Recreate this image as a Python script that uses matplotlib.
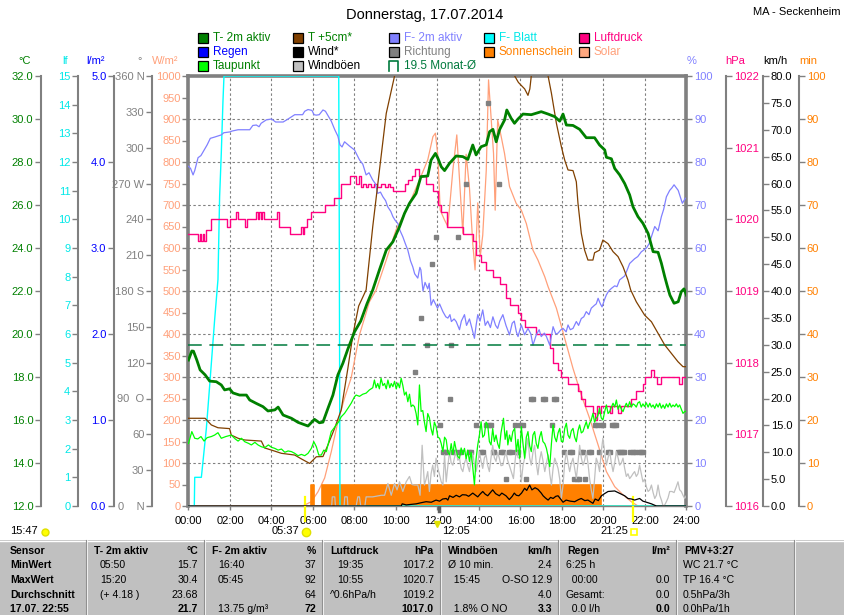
import matplotlib
matplotlib.use('Agg')
import matplotlib.pyplot as plt
from matplotlib.patches import Rectangle

plt.rcParams['font.family'] = ['Liberation Sans', 'DejaVu Sans']
plt.rcParams['font.size'] = 8
plt.rcParams['axes.unicode_minus'] = False

# ------------------------------------------------------------------ data
hours = [0, 2, 4, 6, 8, 10, 12, 14, 16, 18, 20, 22, 24]
hour_labels = ['00:00', '02:00', '04:00', '06:00', '08:00', '10:00', '12:00',
               '14:00', '16:00', '18:00', '20:00', '22:00', '24:00']

# T- 2m aktiv (degC)
t2m = [(0, 18.79), (0.16, 19.21), (0.24, 19.2), (0.4, 18.79), (0.56, 18.33), (0.8, 18.1),
       (1.02, 17.81), (1.34, 17.78), (1.58, 17.63), (1.74, 17.40), (1.98, 17.45), (2.14, 17.26),
       (2.46, 17.16), (2.79, 17.16), (2.95, 16.93), (3.27, 16.77), (3.59, 16.62), (3.83, 16.42),
       (4.16, 16.47), (4.32, 16.6), (4.56, 16.23), (4.96, 16.08), (5.28, 15.89), (5.76, 15.72),
       (6.07, 16.03), (6.31, 15.87), (6.48, 15.9), (6.72, 16.54), (6.96, 17.16), (7.2, 18.1),
       (7.44, 18.64), (7.68, 19.3), (8.0, 20.1), (8.3, 20.6), (8.6, 21.4), (8.88, 22.05),
       (9.2, 22.98), (9.53, 23.9), (9.85, 24.29), (10.17, 24.99), (10.41, 25.61), (10.65, 26.08),
       (10.97, 26.54), (11.2, 27.32), (11.53, 27.35), (11.69, 28.09), (11.9, 28.4), (12.02, 28.17),
       (12.18, 27.78), (12.34, 27.6), (12.58, 27.94), (12.9, 28.28), (13.22, 28.25), (13.46, 28.12),
       (13.7, 28.79), (13.86, 28.33), (14.1, 28.71), (14.35, 28.8), (14.51, 29.41), (14.67, 29.52),
       (14.83, 28.94), (14.99, 29.5), (15.23, 29.95), (15.34, 30.42), (15.55, 30.03), (15.71, 29.8),
       (15.88, 30.0), (16.12, 30.23), (16.52, 30.2), (17.0, 30.34), (17.33, 30.23), (17.65, 30.11),
       (17.89, 29.9), (18.05, 30.23), (18.21, 29.72), (18.53, 29.7), (18.85, 29.52), (19.17, 29.13),
       (19.57, 29.13), (19.81, 28.79), (20.06, 28.56), (20.14, 28.22), (20.38, 28.15), (20.54, 27.7),
       (20.78, 27.4), (21.02, 27.0), (21.26, 26.47), (21.42, 25.92), (21.66, 25.46), (21.9, 25.15),
       (22.15, 24.68), (22.39, 23.83), (22.63, 23.8), (22.79, 23.29), (22.95, 22.67), (23.06, 22.28),
       (23.2, 21.81), (23.4, 21.43), (23.6, 21.5), (23.75, 21.97), (23.88, 22.1), (24.0, 21.8)]

# T +5cm* (degC) - values above 32 run off the chart
t5cm = [(0, 16.08), (0.8, 16.08), (1.1, 15.77), (1.42, 15.64), (1.98, 15.6), (2.06, 15.3),
        (2.39, 15.15), (2.71, 15.07), (3.51, 15.02), (3.67, 14.7), (4.0, 14.6), (4.48, 14.45),
        (5.12, 14.37), (5.44, 14.19), (5.84, 13.98), (6.16, 14.29), (6.48, 14.3), (6.72, 14.84),
        (7.04, 15.61), (7.36, 16.47), (7.68, 18.4), (7.92, 19.95), (8.2, 21.3), (8.56, 22.05),
        (8.88, 25.0), (9.2, 27.6), (9.53, 30.26), (9.93, 32.0), (10.2, 34.0), (15.4, 34.0),
        (15.72, 32.0), (15.9, 31.7), (16.2, 31.4), (16.36, 31.1), (16.45, 31.4), (16.52, 32.0),
        (16.8, 34.0), (17.1, 34.0), (17.33, 32.0), (17.49, 31.2), (17.73, 29.8), (17.97, 28.71),
        (18.13, 28.09), (18.29, 27.63), (18.53, 27.6), (18.69, 27.08), (18.77, 26.08), (18.93, 24.68),
        (19.09, 23.9), (19.25, 23.44), (19.49, 23.44), (19.57, 23.78), (19.81, 23.9), (19.97, 24.37),
        (20.22, 24.2), (20.46, 23.83), (20.7, 23.6), (20.94, 23.13), (21.18, 22.51), (21.31, 22.05),
        (21.58, 21.5), (21.98, 20.88), (22.31, 20.57), (22.63, 20.03), (22.95, 19.49), (23.27, 19.1),
        (23.59, 18.71), (23.83, 18.48), (24.0, 18.48)]

# Taupunkt (degC)
dew = [(0, 14.91), (0.16, 15.46), (0.3, 15.15), (0.45, 15.12), (0.6, 15.23), (0.75, 15.02),
       (0.9, 15.18), (1.1, 15.23), (1.26, 15.30), (1.42, 15.41), (1.58, 15.15), (1.8, 15.23),
       (2.06, 15.30), (2.25, 15.12), (2.39, 15.02), (2.55, 15.15), (2.71, 14.99), (2.9, 14.91),
       (3.03, 14.84), (3.2, 14.96), (3.35, 14.84), (3.5, 14.76), (3.67, 14.71), (3.85, 14.84),
       (4.0, 14.73), (4.16, 14.68), (4.32, 14.60), (4.48, 14.65), (4.64, 14.50), (4.8, 14.56),
       (4.96, 14.53), (5.12, 14.45), (5.28, 14.34), (5.44, 14.40), (5.6, 14.34), (5.76, 14.45),
       (5.92, 14.68), (6.04, 14.99), (6.16, 14.76), (6.28, 14.37), (6.4, 14.37), (6.52, 14.60),
       (6.64, 14.53), (6.76, 14.99), (6.88, 15.46), (7.0, 15.61), (7.12, 15.77), (7.24, 15.92),
       (7.36, 16.15), (7.52, 16.31), (7.68, 16.54), (7.84, 16.78), (8.0, 17.08),
       (8.08, 17.16), (8.24, 17.1), (8.4, 17.2), (8.56, 17.25), (8.72, 17.4), (8.88, 17.5),
       (8.96, 17.86), (9.04, 17.5), (9.12, 17.7), (9.2, 17.45), (9.28, 17.94), (9.37, 17.6),
       (9.45, 17.7), (9.53, 17.45), (9.61, 17.86), (9.7, 17.5), (9.77, 17.7), (9.85, 17.55),
       (9.93, 17.8), (10.01, 17.45), (10.09, 17.72), (10.17, 17.5), (10.25, 17.94), (10.33, 17.6),
       (10.41, 17.16), (10.49, 17.3), (10.57, 16.85), (10.65, 17.2), (10.73, 16.62), (10.81, 16.7),
       (10.89, 16.62), (10.97, 16.3), (11.05, 15.77), (11.13, 17.63), (11.21, 16.4), (11.29, 16.44),
       (11.37, 15.9), (11.45, 15.46), (11.53, 16.3), (11.61, 16.1), (11.69, 15.6), (11.77, 15.3),
       (11.85, 15.9), (11.93, 15.7), (12.02, 15.2), (12.1, 15.15), (12.18, 14.9), (12.26, 14.53),
       (12.34, 15.2), (12.42, 15.08), (12.5, 14.5), (12.58, 14.38), (12.66, 14.9), (12.74, 14.4),
       (12.82, 15.0), (12.9, 14.6), (12.98, 14.3), (13.06, 14.22), (13.14, 14.7), (13.22, 14.4),
       (13.3, 14.68), (13.38, 14.2), (13.46, 14.6), (13.54, 14.07), (13.62, 14.5), (13.7, 13.8),
       (13.78, 12.98), (13.86, 14.2), (13.94, 14.84), (14.02, 15.3), (14.1, 15.92), (14.18, 15.2),
       (14.26, 15.3), (14.34, 15.9), (14.42, 15.77), (14.5, 15.0), (14.58, 14.84), (14.66, 15.6),
       (14.74, 15.0), (14.82, 15.3), (14.9, 14.9), (14.98, 14.68), (15.06, 15.4), (15.18, 16.08),
       (15.26, 15.1), (15.34, 15.5), (15.39, 14.84), (15.47, 15.3), (15.55, 15.0), (15.63, 15.46),
       (15.72, 15.61), (15.8, 14.53), (15.88, 15.1), (15.96, 14.22), (16.04, 15.69), (16.12, 14.9),
       (16.2, 14.22), (16.28, 15.2), (16.36, 15.46), (16.44, 14.8), (16.52, 14.53), (16.6, 15.3),
       (16.68, 15.46), (16.76, 14.9), (16.84, 14.68), (16.92, 15.2), (17.0, 15.46), (17.08, 15.0),
       (17.17, 14.9), (17.25, 14.68), (17.33, 14.3), (17.41, 13.83), (17.49, 14.9), (17.57, 15.77),
       (17.65, 15.2), (17.73, 14.99), (17.81, 15.4), (17.89, 15.61), (17.97, 15.0), (18.05, 14.99),
       (18.13, 15.6), (18.21, 15.85), (18.29, 15.3), (18.37, 15.15), (18.45, 15.5), (18.53, 15.61),
       (18.61, 15.2), (18.69, 14.99), (18.77, 15.5), (18.85, 15.77), (18.93, 15.4), (19.01, 15.46),
       (19.09, 15.7), (19.17, 15.92), (19.25, 15.6), (19.33, 15.85), (19.41, 16.0), (19.49, 16.31),
       (19.57, 15.9), (19.65, 16.08), (19.73, 16.2), (19.81, 16.54), (19.89, 16.1), (19.97, 16.0),
       (20.06, 16.4), (20.14, 16.70), (20.22, 16.3), (20.3, 16.39), (20.38, 16.6), (20.46, 16.78),
       (20.54, 16.6), (20.62, 16.93), (20.7, 16.5), (20.78, 16.70), (20.86, 16.5), (20.94, 16.39),
       (21.02, 16.6), (21.1, 16.78), (21.18, 16.6), (21.26, 16.85), (21.34, 16.6), (21.42, 16.75),
       (21.5, 16.70), (21.58, 16.6), (21.66, 16.8), (21.74, 16.85), (21.82, 16.6), (21.9, 16.75),
       (21.98, 16.62), (22.06, 16.8), (22.15, 16.6), (22.23, 16.78), (22.31, 16.6), (22.39, 16.7),
       (22.47, 16.54), (22.55, 16.75), (22.63, 16.6), (22.71, 16.78), (22.79, 16.55), (22.87, 16.7),
       (22.95, 16.54), (23.03, 16.75), (23.11, 16.6), (23.19, 16.78), (23.27, 16.6), (23.35, 16.7),
       (23.43, 16.62), (23.51, 16.75), (23.59, 16.6), (23.67, 16.70), (23.75, 16.5), (23.83, 16.31),
       (23.92, 16.4), (24.0, 16.39)]

month_avg_temp = 19.5

# F- 2m aktiv (%)
hum = [(0, 79), (0.1, 78.5), (0.22, 77), (0.3, 78), (0.46, 81), (0.6, 81.5), (0.78, 83), (0.9, 84),
       (1.05, 85.5), (1.26, 85.8), (1.58, 86.3), (1.7, 86.8), (2.0, 87), (2.1, 87.2), (2.39, 87.5),
       (2.95, 87.5), (3.1, 88.5), (3.27, 88.6), (3.4, 88.2), (3.5, 89), (3.75, 89.8), (4.0, 90),
       (4.2, 89.3), (4.56, 89.3), (4.8, 90), (5.12, 91), (5.5, 91), (5.6, 91.8), (5.76, 92.2),
       (5.95, 92), (6.05, 91), (6.16, 90.9), (6.3, 91), (6.48, 92.1), (6.6, 91.8), (6.88, 89.5),
       (7.05, 87.5), (7.2, 86), (7.3, 84), (7.4, 83.5), (7.52, 84.7), (7.76, 83.7), (8.0, 82.8),
       (8.24, 80.5), (8.4, 79.5), (8.56, 77), (8.7, 77.5), (8.88, 75.8), (9.0, 75), (9.12, 72.7),
       (9.25, 73), (9.37, 71.9), (9.5, 71), (9.6, 69.6), (9.75, 68.5), (9.85, 67.3), (9.95, 66.5),
       (10.09, 65.7), (10.2, 64), (10.33, 62.6), (10.45, 61), (10.57, 59.5), (10.7, 57), (10.81, 55.6),
       (10.9, 54), (11.05, 53), (11.15, 55.5), (11.2, 54.9), (11.3, 50), (11.4, 52), (11.53, 50.5),
       (11.6, 51.8), (11.69, 46.7), (11.8, 48), (12.0, 46), (12.1, 47), (12.26, 45.2), (12.4, 44),
       (12.5, 43.7), (12.6, 44.5), (12.67, 42.9), (12.8, 43.5), (12.9, 42.9), (13.06, 41), (13.15, 43),
       (13.3, 44.5), (13.4, 42), (13.54, 43.5), (13.65, 41.5), (13.78, 39), (13.86, 42), (13.94, 44.5),
       (14.05, 43), (14.18, 45.6), (14.3, 42), (14.42, 43), (14.55, 41.5), (14.67, 44), (14.8, 42),
       (14.9, 41.3), (15.0, 43), (15.15, 44.5), (15.3, 42), (15.47, 39.8), (15.6, 42.5), (15.7, 43),
       (15.8, 40.5), (15.88, 39.4), (16.04, 42.1), (16.2, 39.8), (16.36, 41.3), (16.5, 40), (16.6, 37.4),
       (16.76, 39.8), (16.9, 41), (17.0, 39.4), (17.15, 40.2), (17.25, 39.4), (17.41, 37.4), (17.57, 41.7),
       (17.7, 40), (17.81, 40.2), (17.95, 41), (18.05, 41.3), (18.2, 40.5), (18.29, 42.1), (18.4, 41),
       (18.53, 41.3), (18.69, 42.9), (18.8, 42), (18.93, 43.6), (19.05, 44), (19.17, 45.2), (19.3, 44.5),
       (19.41, 46.0), (19.57, 46.7), (19.65, 47), (19.74, 48.3), (19.85, 47), (19.93, 46.3), (20.05, 48),
       (20.14, 49.1), (20.25, 50), (20.38, 50.6), (20.54, 51.2), (20.65, 51), (20.78, 52.6), (21.02, 53.5),
       (21.15, 55), (21.26, 56.4), (21.5, 57.5), (21.65, 58), (21.82, 59.1), (22.07, 60), (22.2, 61),
       (22.31, 62.6), (22.47, 65), (22.63, 64), (22.79, 67.3), (22.9, 69), (23.03, 71.9), (23.19, 73.4),
       (23.3, 74), (23.4, 74.7), (23.6, 73.4), (23.8, 70.4), (23.95, 71.6), (24.0, 71.5)]

# Luftdruck (hPa)
press = [(0, 1019.8), (0.46, 1019.7), (0.55, 1019.8), (0.6, 1019.7), (0.7, 1019.8), (0.75, 1019.7),
         (0.86, 1019.85), (1.1, 1020.0), (1.85, 1019.9), (2.0, 1020.0), (2.3, 1020.1), (2.4, 1020.0),
         (2.7, 1019.9), (2.8, 1020.0), (3.27, 1020.1), (3.35, 1020.0), (3.42, 1020.1), (3.5, 1020.0),
         (3.55, 1020.1), (3.62, 1020.0), (4.26, 1020.1), (4.35, 1019.9), (4.9, 1019.8), (5.4, 1019.9),
         (5.5, 1019.8), (5.55, 1019.9), (5.7, 1020.0), (5.9, 1020.1), (6.6, 1020.2), (7.0, 1020.3),
         (7.37, 1020.5), (7.8, 1020.6), (8.08, 1020.5), (8.2, 1020.6), (8.3, 1020.45), (8.4, 1020.5),
         (8.55, 1020.45), (8.65, 1020.5), (8.8, 1020.45), (8.95, 1020.5), (9.1, 1020.45), (9.3, 1020.5),
         (9.45, 1020.45), (9.6, 1020.5), (9.7, 1020.45), (9.85, 1020.4), (10.45, 1020.5), (10.57, 1020.55),
         (10.75, 1020.6), (10.9, 1020.7), (11.13, 1020.6), (11.45, 1020.5), (11.78, 1020.4), (12.02, 1020.2),
         (12.18, 1020.1), (12.45, 1019.9), (12.9, 1019.9), (13.22, 1019.8), (13.7, 1019.7), (13.86, 1019.5),
         (14.1, 1019.4), (14.35, 1019.3), (14.67, 1019.2), (15.0, 1019.1), (15.3, 1018.9), (15.5, 1018.8),
         (15.88, 1018.7), (16.04, 1018.6), (16.2, 1018.5), (16.76, 1018.4), (17.41, 1018.2), (17.57, 1018.0),
         (17.81, 1017.9), (17.97, 1017.8), (18.29, 1017.7), (18.77, 1017.6), (18.93, 1017.5), (19.09, 1017.4),
         (19.49, 1017.3), (19.57, 1017.2), (19.7, 1017.4), (19.8, 1017.3), (19.9, 1017.4), (20.3, 1017.3),
         (20.4, 1017.4), (20.7, 1017.3), (20.85, 1017.4), (21.34, 1017.5), (21.58, 1017.6), (21.9, 1017.7),
         (21.98, 1017.8), (22.31, 1017.9), (22.45, 1017.8), (22.6, 1017.7), (22.75, 1017.8), (23.65, 1017.7),
         (23.8, 1017.8), (24.0, 1017.8)]

# F- Blatt (leaf wetness, lf)
leaf = [(0, 0), (0.28, 0), (0.3, 1.0), (0.62, 1.0), (0.86, 2.7), (1.02, 4.2), (1.26, 6.5), (1.42, 7.9),
        (1.5, 10.8), (1.58, 12.3), (1.66, 14.1), (1.71, 15), (7.24, 15), (7.26, 11.3), (7.3, 0), (24, 0)]

# Regen (l/m2)
rain = [(0, 0.0), (24, 0.0)]

# Solar (W/m2)
solar = [(0, 0), (5.5, 0), (5.92, 10), (6.24, 33), (6.56, 65), (6.88, 126), (7.2, 196), (7.52, 251),
         (7.84, 298), (8.24, 398), (8.72, 475), (9.04, 502), (9.53, 572), (10.0, 642), (10.65, 704),
         (11.13, 758), (11.53, 805), (11.78, 859), (11.9, 867), (12.02, 812), (12.13, 688), (12.34, 665),
         (12.5, 650), (12.74, 781), (12.93, 863), (13.06, 760), (13.22, 634), (13.38, 818), (13.54, 740),
         (13.7, 610), (13.81, 549), (13.94, 705), (14.06, 580), (14.18, 630), (14.35, 781), (14.46, 991),
         (14.59, 898), (14.7, 820), (14.78, 688), (14.9, 898), (15.07, 859), (15.23, 820), (15.47, 743),
         (15.79, 704), (16.04, 688), (16.28, 657), (16.6, 595), (16.84, 572), (17.17, 533), (17.33, 510),
         (17.73, 460), (18.13, 390), (18.53, 320), (18.93, 258), (19.33, 204), (19.74, 142), (20.14, 80),
         (20.54, 45), (20.94, 26), (21.34, 10), (21.66, 0), (24, 0)]

# Sonnenschein (min per interval)
sun = [(0, 0), (5.92, 5), (6.05, 0), (6.45, 5), (19.87, 0), (24, 0)]

# Wind* (km/h)
wind = [(0, 0), (10.25, 0), (10.3, 0.4), (10.49, 0.2), (10.97, 0.4), (11.2, 0.6), (11.45, 0.8),
        (11.7, 0.7), (11.93, 1.1), (12.1, 0.9), (12.25, 1.3), (12.42, 1.4), (12.5, 1.1), (12.58, 1.9),
        (12.75, 1.6), (12.9, 2.0), (13.06, 1.7), (13.2, 2.1), (13.38, 2.05), (13.5, 1.8), (13.7, 2.4),
        (13.8, 2.1), (13.94, 1.7), (14.05, 2.2), (14.18, 2.7), (14.3, 2.2), (14.42, 1.9), (14.55, 2.5),
        (14.66, 3.0), (14.8, 2.3), (14.98, 1.9), (15.1, 2.4), (15.3, 1.9), (15.46, 1.2), (15.6, 1.8),
        (15.7, 2.4), (15.8, 2.0), (15.92, 1.9), (16.05, 2.4), (16.2, 3.3), (16.3, 2.9), (16.44, 3.9),
        (16.55, 3.0), (16.7, 3.4), (16.84, 3.1), (17.0, 2.4), (17.09, 1.9), (17.2, 1.5), (17.33, 1.1),
        (17.45, 1.6), (17.57, 1.4), (17.7, 1.8), (17.81, 1.9), (17.95, 1.2), (18.05, 0.7), (18.2, 1.1),
        (18.4, 0.9), (18.61, 0.8), (18.8, 1.2), (18.93, 1.4), (19.1, 1.0), (19.25, 1.1), (19.49, 0.5),
        (19.6, 1.3), (19.75, 1.0), (19.9, 1.9), (20.05, 2.3), (20.22, 2.7), (20.54, 2.8), (20.7, 2.5),
        (20.86, 2.2), (21.02, 1.9), (21.18, 1.4), (21.35, 1.3), (21.5, 1.1), (21.74, 1.4), (21.9, 0.9),
        (22.07, 0.7), (22.31, 0.4), (22.55, 0), (24, 0)]

# Windboeen (km/h)
gust = [(0, 0), (6.9, 0), (6.93, 1.7), (7.05, 1.7), (7.08, 0), (7.5, 0), (7.53, 1.7), (7.65, 1.7),
        (7.68, 0), (8.08, 0), (8.16, 1.7), (8.24, 1.7), (8.3, 0), (8.5, 0), (8.56, 1.7), (8.88, 1.7),
        (9.3, 2.0), (9.45, 2.0), (9.61, 4.2), (9.77, 2.0), (9.93, 4.2), (10.05, 3.0), (10.17, 4.5),
        (10.33, 2.7), (10.49, 4.5), (10.65, 5.5), (10.77, 4.0), (10.89, 3.9), (11.05, 3.9), (11.16, 2.0),
        (11.26, 11.3), (11.37, 3.9), (11.45, 5.0), (11.53, 6.4), (11.61, 2.7), (11.69, 6.0), (11.77, 7.6),
        (11.85, 5.5), (11.93, 8.9), (12.02, 7.0), (12.1, 5.8), (12.18, 4.5), (12.26, 3.9), (12.34, 9.5),
        (12.42, 4.5), (12.5, 7.5), (12.58, 10.1), (12.66, 8.0), (12.74, 7.6), (12.82, 9.0), (12.9, 10.4),
        (12.98, 8.5), (13.06, 8.9), (13.14, 7.0), (13.22, 6.4), (13.3, 8.0), (13.38, 8.9), (13.46, 7.5),
        (13.54, 6.4), (13.62, 8.5), (13.7, 9.8), (13.78, 7.6), (13.86, 6.4), (13.94, 8.0), (14.02, 10.1),
        (14.1, 8.3), (14.18, 7.0), (14.26, 9.0), (14.34, 9.5), (14.42, 7.5), (14.5, 6.4), (14.58, 9.0),
        (14.66, 11.3), (14.74, 9.0), (14.82, 8.3), (14.9, 10.0), (14.98, 8.9), (15.06, 7.5), (15.15, 7.6),
        (15.22, 9.0), (15.3, 10.1), (15.38, 8.5), (15.46, 7.6), (15.55, 6.5), (15.66, 5.1), (15.72, 7.6),
        (15.8, 10.7), (15.88, 9.0), (15.96, 8.9), (16.04, 4.5), (16.12, 7.5), (16.2, 8.9), (16.28, 10.5),
        (16.36, 12.6), (16.44, 9.0), (16.52, 7.6), (16.6, 10.0), (16.68, 11.3), (16.76, 8.0), (16.84, 5.8),
        (16.92, 8.5), (17.0, 10.1), (17.08, 8.5), (17.17, 6.4), (17.25, 8.0), (17.33, 9.5), (17.41, 6.0),
        (17.49, 3.9), (17.57, 7.0), (17.65, 8.9), (17.73, 8.0), (17.81, 7.0), (17.89, 5.0), (17.97, 1.4),
        (18.05, 3.9), (18.13, 8.0), (18.21, 10.1), (18.29, 8.0), (18.37, 6.4), (18.45, 8.0), (18.53, 8.9),
        (18.61, 7.0), (18.69, 5.1), (18.77, 8.0), (18.85, 11.3), (18.93, 9.0), (19.01, 7.6), (19.09, 8.5),
        (19.17, 10.1), (19.25, 8.0), (19.33, 5.1), (19.41, 3.0), (19.49, 1.4), (19.57, 5.0), (19.65, 8.9),
        (19.73, 8.0), (19.81, 6.4), (19.89, 10.0), (19.97, 12.6), (20.06, 10.0), (20.14, 7.6), (20.22, 9.0),
        (20.3, 10.1), (20.38, 8.0), (20.46, 6.4), (20.54, 8.0), (20.62, 10.1), (20.7, 9.0), (20.78, 7.6),
        (20.86, 8.0), (20.94, 8.9), (21.02, 7.0), (21.1, 5.5), (21.18, 6.0), (21.26, 5.1), (21.34, 5.5),
        (21.42, 6.0), (21.5, 6.4), (21.58, 5.5), (21.66, 6.0), (21.74, 7.6), (21.82, 6.0), (21.9, 4.5),
        (21.98, 5.0), (22.07, 3.5), (22.15, 2.7), (22.23, 3.0), (22.31, 3.9), (22.39, 2.5), (22.47, 1.4),
        (22.55, 2.0), (22.63, 3.9), (22.71, 2.0), (22.8, 1.0), (22.87, 0), (22.95, 0.2), (23.03, 0.8),
        (23.11, 1.5), (23.19, 2.7), (23.3, 2.7), (23.4, 2.5), (23.5, 3.5), (23.59, 4.5), (23.67, 3.0),
        (23.75, 2.7), (23.83, 2.0), (23.91, 1.4), (24.0, 2.0)]

# Richtung (deg)
direction = [(10.9, 112.5), (11.21, 157.5), (11.48, 135), (11.75, 202.5), (11.94, 225), (12.1, 67.5),
             (12.26, 45), (12.34, 45), (12.42, 45), (12.58, 90), (12.65, 135), (12.74, 45), (12.82, 45),
             (13.0, 225), (13.06, 45), (13.14, 45), (13.38, 270), (13.54, 45), (13.62, 45), (13.87, 67.5),
             (14.1, 45), (14.18, 45), (14.34, 67.5), (14.43, 337.5), (14.5, 67.5), (14.58, 67.5),
             (14.66, 45), (14.74, 45), (14.96, 270), (15.06, 45), (15.15, 45), (15.3, 22.5), (15.46, 45),
             (15.55, 45), (15.72, 67.5), (15.8, 45), (15.88, 45), (16.0, 67.5), (16.1, 67.5), (16.25, 22.5),
             (16.5, 90), (16.6, 90), (17.1, 90), (17.2, 90), (17.5, 67.5), (17.6, 90), (17.7, 90),
             (18.1, 45), (18.4, 45), (18.5, 45), (18.6, 22.5), (18.7, 22.5), (18.8, 22.5), (18.9, 45),
             (19.0, 45), (19.1, 22.5), (19.3, 45), (19.4, 45), (19.6, 67.5), (19.7, 67.5), (19.8, 45),
             (19.9, 67.5), (20.0, 67.5), (20.2, 45), (20.3, 45), (20.4, 67.5), (20.5, 67.5), (20.6, 67.5),
             (20.7, 45), (20.8, 45), (20.9, 45), (21.0, 45), (21.3, 45), (21.4, 45), (21.5, 45),
             (21.7, 45), (21.8, 45), (21.9, 45)]

sunrise_h, solar_noon_h, sunset_h = 5.617, 12.083, 21.417

# axis scales
degc_ticks = [12, 14, 16, 18, 20, 22, 24, 26, 28, 30, 32]
lf_ticks = list(range(0, 16))
rain_ticks = [0, 1, 2, 3, 4, 5]
dir_ticks = [0, 30, 60, 90, 120, 150, 180, 210, 240, 270, 300, 330, 360]
dir_labels = ['0    N', '30', '60', '90  O', '120', '150', '180 S', '210', '240', '270 W', '300', '330', '360 N']
solar_ticks = list(range(0, 1001, 50))
hum_ticks = list(range(0, 101, 10))
hpa_ticks = [1016, 1017, 1018, 1019, 1020, 1021, 1022]
kmh_ticks = list(range(0, 81, 5))
min_ticks = list(range(0, 101, 10))

# summary table
table_header = ['Sensor', 'T- 2m aktiv', '°C', 'F- 2m aktiv', '%', 'Luftdruck', 'hPa',
                'Windböen', 'km/h', 'Regen', 'l/m²', 'PMV+3:27']
row_names = ['MinWert', 'MaxWert', 'Durchschnitt', '17.07. 22:55']
col_t_left = ['05:50', '15:20', '(+ 4.18 )', '']
col_t_val = ['15.7', '30.4', '23.68', '21.7']
col_f_left = ['16:40', '05:45', '', '13.75 g/m³']
col_f_val = ['37', '92', '64', '72']
col_p_left = ['19:35', '10:55', '^0.6hPa/h', '']
col_p_val = ['1017.2', '1020.7', '1019.2', '1017.0']
col_w_left = ['Ø 10 min.', '  15:45', '', '  1.8% O NO']
col_w_val = ['2.4', 'O-SO 12.9', '4.0', '3.3']
col_r_left = ['6:25 h', '  00:00', 'Gesamt:', '  0.0 l/h']
col_r_val = ['', '0.0', '0.0', '0.0']
col_pmv = ['WC 21.7 °C', 'TP 16.4 °C', '0.5hPa/3h', '0.0hPa/1h']


def unz(pairs):
    return [p[0] for p in pairs], [p[1] for p in pairs]


# ------------------------------------------------------------------ figure
W, H = 845, 615
L, R, T, B = 188.5, 686.5, 76, 506
GREY = '#808080'
fig = plt.figure(figsize=(W / 100, H / 100), dpi=100)
fig.patch.set_facecolor('white')
ax = fig.add_axes([L / W, 1 - B / H, (R - L) / W, (B - T) / H])
ax.set_zorder(0)
ax.set_xlim(0, 24)
ax.set_ylim(0, 1000)
for s in ['left', 'top', 'right']:
    ax.spines[s].set_linewidth(2.6)
    ax.spines[s].set_color(GREY)
ax.spines['bottom'].set_linewidth(1.0)
ax.spines['bottom'].set_color(GREY)
ax.set_xticks(hours)
ax.set_xticklabels(hour_labels)
ax.tick_params(axis='x', length=3, width=1, color=GREY, pad=4, labelsize=8)
ax.set_yticks(solar_ticks)
ax.set_yticklabels([str(v) for v in solar_ticks])
ax.tick_params(axis='y', length=4, width=1, color=GREY, labelcolor='#FFA07A', pad=1.5, labelsize=8)
for gy in solar_ticks:
    if gy % 100 == 0 and 0 < gy < 1000:
        ax.axhline(gy, color=GREY, lw=0.8, ls=(0, (2.2, 2.2)), zorder=0.5)
for gx in hours[1:-1]:
    ax.axvline(gx, color=GREY, lw=0.8, ls=(0, (2.2, 2.2)), zorder=0.5)


def side_axis(pos_px, side, ylim, ticks, labels, color, z, show_spine=True):
    tw = ax.twinx()
    tw.set_zorder(z)
    tw.patch.set_visible(False)
    for s in tw.spines.values():
        s.set_visible(False)
    sp = tw.spines[side]
    sp.set_visible(show_spine)
    sp.set_position(('axes', (pos_px - L) / (R - L)))
    sp.set_color(GREY)
    sp.set_linewidth(1.5)
    tw.yaxis.set_ticks_position(side)
    tw.yaxis.set_label_position(side)
    tw.set_ylim(*ylim)
    tw.set_yticks(ticks)
    tw.set_yticklabels(labels)
    tw.tick_params(axis='y', colors=GREY, labelcolor=color, length=4, width=1, pad=1.5, labelsize=8)
    return tw


ax_min = side_axis(799, 'right', (0, 100), min_ticks, [str(v) for v in min_ticks], '#FF8000', 1)
ax_rain = side_axis(114, 'left', (0, 5), rain_ticks, ['%.1f' % v for v in rain_ticks], '#0000FF', 2)
ax_lf = side_axis(78, 'left', (0, 15), lf_ticks, [str(v) for v in lf_ticks], '#00E8E8', 3)
ax_dir = side_axis(152, 'left', (0, 360), dir_ticks, dir_labels, GREY, 4)
ax_kmh = side_axis(763, 'right', (0, 80), kmh_ticks, ['%.1f' % v for v in kmh_ticks], '#000000', 5)
ax_hpa = side_axis(726, 'right', (1016, 1022), hpa_ticks, [str(v) for v in hpa_ticks], '#FF0080', 6)
ax_hum = side_axis(R, 'right', (0, 100), hum_ticks, [str(v) for v in hum_ticks], '#8080FF', 7, show_spine=False)
ax_c = side_axis(41, 'left', (12, 32), degc_ticks, ['%.1f' % v for v in degc_ticks], '#008000', 8)

# solar on main axis
x, y = unz(solar)
ax.plot(x, y, color='#FFA07A', lw=0.9, zorder=2)

# sunshine
x, y = unz(sun)
ax_min.fill_between(x, y, step='post', color='#FF8000', lw=0)
ax_min.step(x, y, where='post', color='#FF8000', lw=1.2)

# rain
x, y = unz(rain)
ax_rain.plot(x, y, color='#0000FF', lw=0.8)

# leaf wetness
x, y = unz(leaf)
ax_lf.plot(x, y, color='#00FFFF', lw=1.0)

# direction
x, y = unz(direction)
ax_dir.plot(x, y, ls='none', marker='s', ms=2.4, color=GREY, mec=GREY)

# gusts and wind
x, y = unz(gust)
ax_kmh.plot(x, y, color='#C0C0C0', lw=0.9)
x, y = unz(wind)
ax_kmh.plot(x, y, color='#000000', lw=0.9)

# pressure
x, y = unz(press)
ax_hpa.plot(x, y, color='#FF0080', lw=1.0, drawstyle='steps-post')

# humidity
x, y = unz(hum)
ax_hum.plot(x, y, color='#8080FF', lw=0.9)

# temperatures
ax_c.axhline(month_avg_temp, color='#007A3D', lw=1.1, ls=(0, (9, 5)))
x, y = unz(t5cm)
ax_c.plot(x, y, color='#804000', lw=0.9)
x, y = unz(dew)
ax_c.plot(x, y, color='#00FF00', lw=0.9)
x, y = unz(t2m)
ax_c.plot(x, y, color='#008000', lw=2.0, solid_joinstyle='round')

# sun rise / set marks crossing the time axis
btr = ax.get_xaxis_transform()
for hx in (sunrise_h, sunset_h):
    ax.plot([hx, hx], [0.02, -0.035], transform=btr, color='#FFFF00', lw=1.6, clip_on=False, zorder=10)
ax.plot([solar_noon_h, solar_noon_h], [0.0, -0.012], transform=btr, color='#606060', lw=2.5,
        clip_on=False, zorder=10)

# ------------------------------------------------------------------ overlay (texts, legend, table)
ov = fig.add_axes([0, 0, 1, 1])
ov.set_zorder(20)
ov.set_xlim(0, W)
ov.set_ylim(H, 0)
ov.axis('off')
ov.patch.set_visible(False)

ov.text(425, 15, 'Donnerstag, 17.07.2014', ha='center', va='center', fontsize=10.5)
ov.text(753, 12, 'MA - Seckenheim', ha='left', va='center', fontsize=8)

units = [(25, '°C', '#008000'), (65, 'lf', '#00E8E8'), (96, 'l/m²', '#0000FF'), (140, '°', GREY),
         (165, 'W/m²', '#FFA07A'), (692, '%', '#8080FF'), (735, 'hPa', '#FF0080'),
         (775, 'km/h', '#000000'), (808, 'min', '#FF8000')]
for ux, txt, col in units:
    ov.text(ux, 61, txt, ha='center', va='center', color=col, fontsize=8)

legend_items = [
    (198, 38, '#008000', 'T- 2m aktiv', '#008000'),
    (293, 38, '#804000', 'T +5cm*', '#008000'),
    (389, 38, '#8080FF', 'F- 2m aktiv', '#8080FF'),
    (484, 38, '#00FFFF', 'F- Blatt', '#00E8E8'),
    (579, 38, '#FF0080', 'Luftdruck', '#FF0080'),
    (198, 52, '#0000FF', 'Regen', '#0000FF'),
    (293, 52, '#000000', 'Wind*', '#000000'),
    (389, 52, '#808080', 'Richtung', '#808080'),
    (484, 52, '#FF8000', 'Sonnenschein', '#FF8000'),
    (579, 52, '#FFA880', 'Solar', '#FFA07A'),
    (198, 66, '#00FF00', 'Taupunkt', '#008000'),
    (293, 66, '#C0C0C0', 'Windböen', '#000000'),
]
for lx, ly, fc, txt, tc in legend_items:
    ov.add_patch(Rectangle((lx, ly - 5), 10, 10, facecolor=fc, edgecolor='black', lw=0.9))
    ov.text(lx + 15, ly, txt, ha='left', va='center', color=tc, fontsize=8.5)
ov.plot([389, 389, 398, 398], [71, 61, 61, 71], color='#007A3D', lw=1.2)
ov.text(404, 66, '19.5 Monat-Ø', ha='left', va='center', color='#007A3D', fontsize=8.5)

# day info below time axis
ov.text(10, 531, '15:47', ha='left', va='center', fontsize=8)
ov.plot([45], [532], marker='o', ms=5, color='#FFFF00', mec='#E0E000')
ov.text(299, 531, '05:37', ha='right', va='center', fontsize=8)
ov.plot([306], [532], marker='o', ms=6, color='#FFFF00', mec='#E0E000')
ov.plot([437], [524], marker='v', ms=5, color='#E0E000')
ov.text(442, 531, '12:05', ha='left', va='center', fontsize=8)
ov.text(628, 531, '21:25', ha='right', va='center', fontsize=8)
ov.plot([634], [532], marker='s', ms=4.5, mfc='white', mec='#FFFF00', mew=1.2)

# table
ov.add_patch(Rectangle((0, 540), W, H - 540, facecolor='#C0C0C0', edgecolor='none'))
ov.plot([0, W], [540.5, 540.5], color='white', lw=1)
for sx in (87, 205, 323, 441, 559, 677, 795):
    ov.plot([sx, sx], [540, H], color='white', lw=1.2)
    ov.plot([sx - 1.2, sx - 1.2], [540, H], color='#909090', lw=0.8)

rows_y = [551, 565.5, 580, 594.5, 608.5]
fs = 7.6
hx_left = [10, 94, None, 212, None, 330, None, 448, None, 567, None, 684]
hx_right = [None, None, 198, None, 316, None, 434, None, 552, None, 670, None]
for i, txt in enumerate(table_header):
    if hx_left[i] is not None:
        ov.text(hx_left[i], rows_y[0], txt, ha='left', va='center', fontsize=fs, fontweight='bold')
    else:
        ov.text(hx_right[i], rows_y[0], txt, ha='right', va='center', fontsize=fs, fontweight='bold')
for r in range(4):
    yy = rows_y[r + 1]
    last = (r == 3)
    wv = 'bold' if last else 'normal'
    ov.text(10, yy, row_names[r], ha='left', va='center', fontsize=fs, fontweight='bold')
    ov.text(100, yy, col_t_left[r], ha='left', va='center', fontsize=fs)
    ov.text(198, yy, col_t_val[r], ha='right', va='center', fontsize=fs, fontweight=wv)
    ov.text(218, yy, col_f_left[r], ha='left', va='center', fontsize=fs)
    ov.text(316, yy, col_f_val[r], ha='right', va='center', fontsize=fs, fontweight=wv)
    ov.text(337 if r < 2 else 330, yy, col_p_left[r], ha='left', va='center', fontsize=fs)
    ov.text(434, yy, col_p_val[r], ha='right', va='center', fontsize=fs, fontweight=wv)
    ov.text(448, yy, col_w_left[r], ha='left', va='center', fontsize=fs)
    ov.text(552, yy, col_w_val[r], ha='right', va='center', fontsize=fs, fontweight=wv)
    ov.text(566, yy, col_r_left[r], ha='left', va='center', fontsize=fs)
    ov.text(670, yy, col_r_val[r], ha='right', va='center', fontsize=fs, fontweight=wv)
    ov.text(683, yy, col_pmv[r], ha='left', va='center', fontsize=fs)

fig.savefig('out.png', dpi=100)
